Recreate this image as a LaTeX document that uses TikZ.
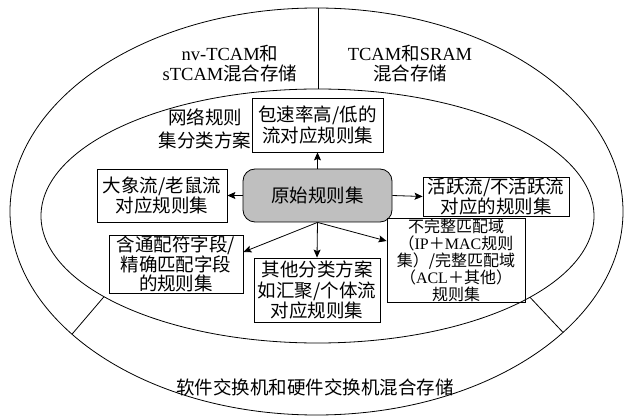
\documentclass[tikz,border=0pt]{standalone}
\usepackage{fontspec}
\setmainfont{Liberation Serif}
\newfontfamily\cjk{Noto Sans CJK SC}
\usetikzlibrary{arrows.meta,calc}
\begin{document}
\begin{tikzpicture}[x=1pt,y=-1pt,
  every node/.style={inner sep=0pt, align=center},
  txt/.style={font=\cjk\fontsize{18.5}{#1}\selectfont},
  txt/.default=20,
  rulebox/.style={draw, line width=0.8pt, inner sep=0pt, align=center},
  ring/.style={line width=0.8pt},
  arr/.style={line width=0.8pt, -{Stealth[length=8pt,width=7pt,inset=1.5pt]}}
]
\useasboundingbox (0,0) rectangle (625,417);

% rings
\draw[ring] (316.5,211.5) ellipse [x radius=306.5pt, y radius=203.5pt];
\draw[ring] (317.5,216) ellipse [x radius=276.5pt, y radius=127pt];
\coordinate (vt) at (318,8.0);
\coordinate (vb) at (318,89);
\draw[ring] (vt) -- (vb);
\coordinate (dl1) at (104,296.7);
\coordinate (dl2) at (72,334.2);
\draw[ring] (dl1) -- (dl2);
\coordinate (dr1) at (530,297.3);
\coordinate (dr2) at (563,332.4);
\draw[ring] (dr1) -- (dr2);

% ring labels
\node[txt=20] (t1) at (230,64) {{\rmfamily nv-TCAM}和\\{\rmfamily sTCAM}混合存储};
\node[txt=20] (t2) at (410,64) {{\rmfamily TCAM}和{\rmfamily SRAM}\\混合存储};
\node[txt=23] (t3) at (205,128.5) {网络规则\\集分类方案};
\node[txt] (t4) at (315,387) {软件交换机和硬件交换机混合存储};

% boxes
\node[rulebox, txt, fill=gray!50, rounded corners=12pt, minimum width=149pt, minimum height=53pt] (src) at (317.5,195.5) {原始规则集};
\node[rulebox, txt=21, minimum width=131pt, minimum height=54pt] (pkt) at (317.5,125) {包速率高/低的\\流对应规则集};
\node[rulebox, txt=17.5, minimum width=130pt, minimum height=53pt] (big) at (162,195.5) {大象流/老鼠流\\对应规则集};
\node[rulebox, txt=18, minimum width=146pt, minimum height=39pt] (act) at (496,196.5) {活跃流/不活跃流\\对应的规则集};
\node[rulebox, font=\cjk\fontsize{16}{17}\selectfont, minimum width=138pt, minimum height=84pt] (inc) at (456,260) {不完整匹配域\\（{\rmfamily IP}＋{\rmfamily MAC}规则\\集）/完整匹配域\\（{\rmfamily ACL}＋其他）\\规则集};
\node[rulebox, txt=19.5, minimum width=134pt, minimum height=58pt] (wild) at (176,264) {含通配符字段/\\精确匹配字段\\的规则集};
\node[rulebox, txt=20.5, minimum width=126pt, minimum height=64pt] (oth) at (317,290) {其他分类方案\\如汇聚/个体流\\对应规则集};

% arrows
\draw[arr] (src.north) -- (pkt.south);
\draw[arr] (src.west) -- (big.east);
\draw[arr] (src.east) -- (act.west);
\draw[arr] (src.south) -- (oth.north);
\draw[arr] (src.south) -- ([yshift=12pt]wild.east);
\draw[arr] (src.south) -- ([yshift=19pt]inc.west);
\end{tikzpicture}
\end{document}
